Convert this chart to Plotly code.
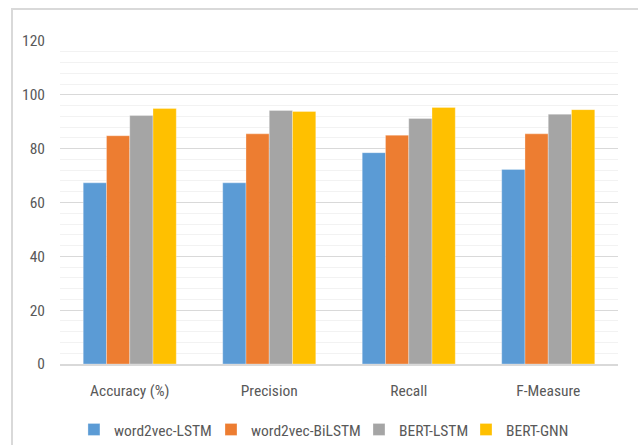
import plotly.graph_objects as go

# Evaluation metrics per model
categories = ["Accuracy (%)", "Precision", "Recall", "F-Measure"]
w2v_lstm = [67.3, 67.3, 78.5, 72.3]
w2v_bilstm = [84.8, 85.5, 85.0, 85.5]
bert_lstm = [92.3, 94.2, 91.2, 92.8]
bert_gnn = [94.9, 93.8, 95.3, 94.5]

series = [
    ("word2vec-LSTM", w2v_lstm, "#5B9BD5"),
    ("word2vec-BiLSTM", w2v_bilstm, "#ED7D31"),
    ("BERT-LSTM", bert_lstm, "#A5A5A5"),
    ("BERT-GNN", bert_gnn, "#FFC000"),
]

FONT = "Liberation Sans Narrow, Roboto Condensed, DejaVu Sans Condensed, sans-serif"
TEXT = "#595959"

# one legend box per series so the entries sit where they belong in the row
legend_ids = ["legend", "legend2", "legend3", "legend4"]
legend_x = [0.025, 0.2706, 0.5358, 0.7276]

fig = go.Figure()
for (name, vals, color), lid in zip(series, legend_ids):
    fig.add_trace(go.Bar(
        x=categories, y=vals, name=name, legend=lid,
        marker=dict(color=color, line=dict(color="rgba(255,255,255,0.5)", width=0.6)),
    ))

# light chart-area frame
fig.add_shape(type="rect", xref="paper", yref="paper",
              x0=-0.086, x1=1.2, y0=-0.5, y1=1.099,
              line=dict(color="#D9D9D9", width=2), fillcolor="rgba(0,0,0,0)",
              layer="below")

legend_style = dict(orientation="h", xanchor="left", y=-0.204, yanchor="middle",
                    font=dict(family=FONT, size=15.5, color=TEXT), itemwidth=30,
                    bgcolor="rgba(0,0,0,0)")

fig.update_layout(
    width=638, height=445,
    margin=dict(l=60, r=20, t=41, b=81, autoexpand=False),
    paper_bgcolor="white", plot_bgcolor="white",
    barmode="group", bargap=0.333, bargroupgap=0,
    font=dict(family=FONT, size=15, color=TEXT),
    showlegend=True,
    xaxis=dict(showgrid=False, showline=True, linecolor="#D9D9D9", linewidth=1.5,
               ticks="", ticklabelstandoff=12, automargin=False,
               tickfont=dict(size=15.5, color=TEXT)),
    yaxis=dict(range=[0, 120], dtick=20, tick0=0, showgrid=True, gridcolor="#D9D9D9",
               gridwidth=1.3, zeroline=False, showline=False, ticks="",
               ticklabelstandoff=14, automargin=False,
               tickfont=dict(size=15.5, color=TEXT),
               minor=dict(dtick=4, showgrid=True, gridcolor="#F2F2F2", gridwidth=1.3)),
)
for lid, lx in zip(legend_ids, legend_x):
    fig.update_layout({lid: dict(legend_style, x=lx)})

fig.write_html("out.html")
